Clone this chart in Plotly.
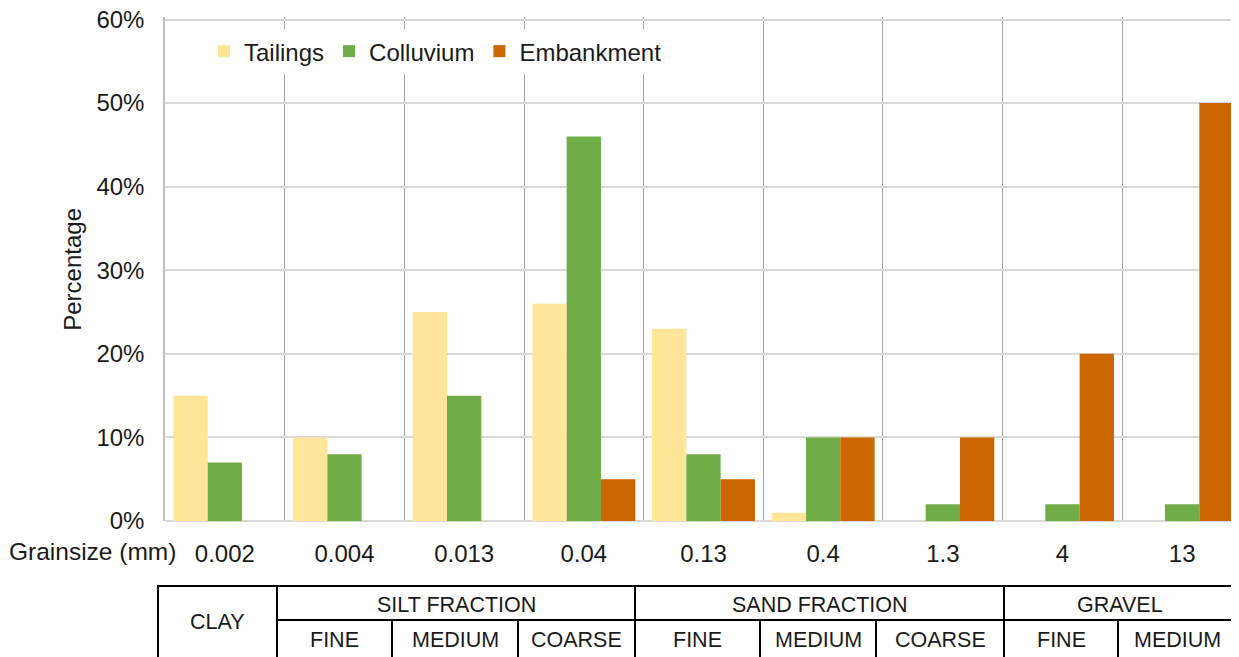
import plotly.graph_objects as go

# ---------------- data ----------------
grain_sizes = ["0.002", "0.004", "0.013", "0.04", "0.13", "0.4", "1.3", "4", "13"]
tailings = [15, 10, 25, 26, 23, 1, 0, 0, 0]
colluvium = [7, 8, 15, 46, 8, 10, 2, 2, 2]
embankment = [0, 0, 0, 5, 5, 10, 10, 20, 50]
series_names = ["Tailings", "Colluvium", "Embankment"]
y_ticks = [0, 10, 20, 30, 40, 50, 60]
y_tick_labels = [f"{v}%" for v in y_ticks]

# classification table labels
main_groups = ["CLAY", "SILT FRACTION", "SAND FRACTION", "GRAVEL"]
sub_groups = ["FINE", "MEDIUM", "COARSE", "FINE", "MEDIUM", "COARSE", "FINE", "MEDIUM"]

# ---------------- layout constants ----------------
OFF = 8                      # page body margin
W, H = 1231, 649
Y_TOP = 60.3                 # axis top (slightly above 60 so the 60% tick shows)
PX_PER_UNIT = 501 / 60       # 0% at screen y 521, 60% at screen y 20
ML, MR, MB = 157, 0, 136
PH = PX_PER_UNIT * Y_TOP
MT = H - MB - PH
PW = W - ML - MR
FONT = "Liberation Sans, Arial, sans-serif"
TXT = "#1a1a1a"
colors = ["#FFE699", "#70AD47", "#CC6600"]

def px(xs):
    """screen pixel x -> paper"""
    return (xs - OFF - ML) / PW

def py(ys):
    """screen pixel y -> paper"""
    return (H - MB - (ys - OFF)) / PH

fig = go.Figure()
for name, vals, col in zip(series_names, [tailings, colluvium, embankment], colors):
    fig.add_trace(go.Bar(x=grain_sizes, y=vals, name=name,
                         marker=dict(color=col, line=dict(width=0))))

# table geometry (screen pixel positions)
top_y, mid_y, bot_y = 586, 620, 700
main_bounds = [158, 277, 635, 1004, 1236]
sub_bounds = [277, 392, 518, 635, 760, 876, 1004, 1118, 1236]

shapes = []
line = dict(color="black", width=2)
shapes.append(dict(type="line", xref="paper", yref="paper", x0=px(157), x1=px(1237),
                   y0=py(top_y), y1=py(top_y), line=line))
shapes.append(dict(type="line", xref="paper", yref="paper", x0=px(277), x1=px(1236),
                   y0=py(mid_y), y1=py(mid_y), line=line))
for xb in main_bounds:
    shapes.append(dict(type="line", xref="paper", yref="paper", x0=px(xb), x1=px(xb),
                       y0=py(top_y), y1=py(bot_y), line=line))
for xb in sub_bounds:
    if xb in main_bounds:
        continue
    shapes.append(dict(type="line", xref="paper", yref="paper", x0=px(xb), x1=px(xb),
                       y0=py(mid_y), y1=py(bot_y), line=line))

annotations = []
tfont = dict(family=FONT, size=21.5, color=TXT)
annotations.append(dict(text=main_groups[0], xref="paper", yref="paper",
                        x=px((main_bounds[0] + main_bounds[1]) / 2), y=py(622),
                        showarrow=False, font=tfont, xanchor="center", yanchor="middle"))
for i, lab in enumerate(main_groups[1:], start=1):
    annotations.append(dict(text=lab, xref="paper", yref="paper",
                            x=px((main_bounds[i] + main_bounds[i + 1]) / 2), y=py(605),
                            showarrow=False, font=tfont, xanchor="center", yanchor="middle"))
for i, lab in enumerate(sub_groups):
    annotations.append(dict(text=lab, xref="paper", yref="paper",
                            x=px((sub_bounds[i] + sub_bounds[i + 1]) / 2), y=py(640),
                            showarrow=False, font=tfont, xanchor="center", yanchor="middle"))

annotations.append(dict(text="Grainsize (mm)", xref="paper", yref="paper",
                        x=px(7), y=py(551), showarrow=False,
                        font=dict(family=FONT, size=24.5, color=TXT),
                        xanchor="left", yanchor="middle"))
annotations.append(dict(text="Percentage", xref="paper", yref="paper",
                        x=px(73), y=py(269), showarrow=False, textangle=-90,
                        font=dict(family=FONT, size=24, color=TXT),
                        xanchor="center", yanchor="middle"))

fig.update_layout(
    width=W, height=H,
    margin=dict(l=ML, r=MR, t=MT, b=MB, pad=0, autoexpand=False),
    paper_bgcolor="white", plot_bgcolor="white",
    barmode="group", bargap=0.14, bargroupgap=0,
    font=dict(family=FONT, size=24, color=TXT),
    showlegend=True,
    legend=dict(orientation="h", x=px(204), y=py(52), xanchor="left", yanchor="middle",
                bgcolor="white", font=dict(family=FONT, size=24, color=TXT),
                traceorder="normal"),
    xaxis=dict(type="category", range=[-0.5, 8.475], tickson="boundaries",
               showgrid=True, gridcolor="#A6A6A6", gridwidth=1,
               showline=False, ticks="", ticklabelstandoff=16,
               tickfont=dict(family=FONT, size=24, color=TXT)),
    yaxis=dict(range=[0, Y_TOP], tickmode="array", tickvals=y_ticks, ticktext=y_tick_labels,
               ticklabeloverflow="allow",
               showgrid=True, gridcolor="#D9D9D9", gridwidth=1.5,
               zeroline=True, zerolinecolor="#D9D9D9", zerolinewidth=2,
               showline=True, linecolor="#BFBFBF", linewidth=1.5,
               ticks="", ticklabelstandoff=14,
               tickfont=dict(family=FONT, size=24, color=TXT)),
    shapes=shapes,
    annotations=annotations,
)

fig.write_html("out.html")
